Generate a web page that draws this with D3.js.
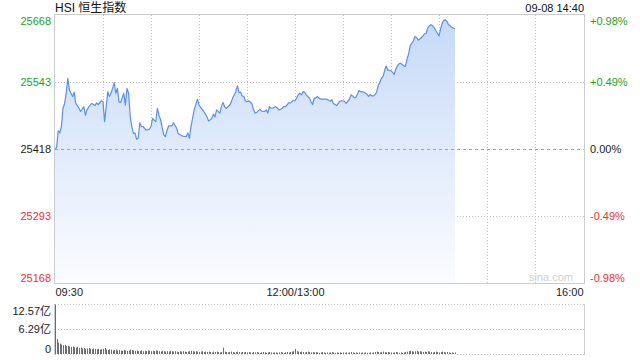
<!DOCTYPE html>
<html><head><meta charset="utf-8">
<script src="https://cdn.jsdelivr.net/npm/d3@7"></script>
<style>
html,body{margin:0;padding:0;background:#fff;}
svg{display:block;font-family:"Liberation Sans",Arial,"Noto Sans CJK SC",sans-serif;}
</style></head>
<body>
<svg id="c" width="640" height="360"></svg>
<script>
// ---- data ----
const title = "HSI 恒生指数";
const stamp = "09-08 14:40";
const prevClose = 25418;
const priceTicks = [25168, 25293, 25418, 25543, 25668];
const pctTicks = ["-0.98%", "-0.49%", "0.00%", "+0.49%", "+0.98%"];
const timeTickMinutes = [0, 150, 330];
const timeTickLabels = ["09:30", "12:00/13:00", "16:00"];
const volTicks = [0, 6.29, 12.57];
const volTickLabels = ["0", "6.29亿", "12.57亿"];

// trading minutes since 09:30 (lunch break removed)
const priceMinutes = [0,1,2,3,4,5,6,7,8,9,10,11,12,13,15,16,18,19,20,21,23,25,26,27,29,30,31,33,34,35,36,37,38,39,40,41,43,44,45,46,47,48,49,50,51,52,53,54,55,57,59,60,61,62,63,64,65,66,68,69,70,71,73,74,76,77,79,80,82,83,84,85,87,89,90,92,93,95,96,98,99,100,101,103,104,105,106,107,109,110,111,113,114,115,116,117,118,119,120,121,123,124,125,126,127,128,129,130,131,132,133,134,135,136,138,139,140,141,142,143,144,145,146,147,148,149,150,151,152,153,154,155,156,157,158,159,160,161,162,163,164,165,166,167,168,169,170,172,173,174,176,177,178,179,181,182,184,185,186,187,188,189,190,191,193,194,195,196,197,198,199,200,201,202,203,204,205,206,207,208,209,210,211,212,213,214,215,216,218,219,220,221,222,223,224,225,226,227,228,229,230,231,232,233,234,235,236,237,238,239,240,241,242,243,244,245,246,247,248,250];
const prices = [25419,25420,25452,25448,25460,25494,25503,25522,25550,25528,25522,25516,25524,25503,25494,25488,25497,25481,25491,25496,25503,25499,25504,25501,25508,25506,25469,25525,25516,25522,25531,25542,25522,25531,25506,25505,25522,25500,25531,25522,25479,25460,25447,25448,25436,25438,25467,25460,25460,25453,25455,25460,25475,25472,25469,25494,25481,25472,25444,25441,25453,25461,25461,25467,25457,25447,25443,25442,25441,25448,25438,25460,25491,25511,25500,25492,25488,25478,25470,25475,25483,25478,25491,25485,25497,25505,25497,25494,25499,25504,25513,25525,25536,25523,25524,25517,25516,25508,25506,25508,25503,25492,25485,25486,25489,25492,25489,25488,25488,25491,25485,25497,25494,25494,25497,25494,25491,25492,25494,25497,25497,25500,25504,25504,25506,25509,25508,25513,25519,25522,25519,25525,25524,25519,25516,25513,25506,25501,25513,25513,25516,25513,25511,25511,25511,25511,25511,25507,25510,25503,25499,25503,25507,25508,25507,25503,25511,25519,25517,25514,25514,25520,25527,25525,25524,25522,25520,25516,25520,25517,25517,25519,25524,25536,25542,25550,25553,25564,25573,25565,25565,25564,25561,25557,25567,25573,25577,25578,25573,25572,25586,25595,25611,25615,25620,25628,25626,25621,25623,25626,25629,25633,25634,25644,25648,25650,25648,25644,25639,25634,25629,25642,25653,25658,25659,25656,25650,25648,25645,25642];

// turnover per minute (亿), minutes 0..250
const volumes = [
12.4,3.8,2.9,2.6,2.4,2.2,2.3,2.0,2.1,1.9,
1.8,1.9,1.7,1.6,1.8,1.5,1.6,1.4,1.5,1.3,
1.4,1.5,1.3,1.2,1.4,1.3,1.2,1.3,1.1,1.2,
1.3,1.5,1.1,1.0,1.2,1.1,0.9,1.0,1.1,0.9,
1.0,0.9,0.8,1.0,0.9,0.8,0.9,1.1,1.0,0.9,
0.8,0.9,0.7,0.8,0.9,0.7,0.8,0.7,0.9,0.8,
0.7,0.8,0.7,0.9,0.8,0.7,0.6,0.8,0.7,0.6,
0.7,0.6,0.8,0.7,0.6,0.7,0.6,0.5,0.7,0.6,
0.7,0.6,0.5,0.6,0.7,0.8,0.7,0.6,0.7,0.6,
0.5,0.6,0.7,0.5,0.6,0.5,0.6,0.5,0.4,0.6,
0.5,0.6,0.5,0.4,0.5,1.6,0.6,0.5,0.4,0.5,
0.6,0.5,0.4,0.5,0.6,0.5,0.4,0.5,0.4,0.5,
0.4,0.5,0.4,0.3,0.5,0.4,0.5,0.4,0.3,0.4,
0.5,0.4,0.3,0.4,0.5,0.4,0.3,0.4,0.4,0.3,
0.4,0.5,0.4,0.3,0.4,0.5,0.4,0.5,0.6,0.7,
1.3,0.7,0.6,0.5,0.6,0.5,0.4,0.5,0.6,0.5,
0.4,0.5,0.4,0.5,0.4,0.3,0.4,0.5,0.4,0.3,
0.4,0.3,0.4,0.5,0.4,0.3,0.4,0.3,0.4,0.3,
0.4,0.3,0.4,0.3,0.4,0.5,0.4,0.3,0.4,0.3,
0.4,0.3,0.4,0.3,0.4,0.3,0.3,0.4,0.3,0.4,
0.5,0.6,0.5,0.4,0.5,0.6,0.5,0.4,0.5,0.4,
0.4,0.3,0.4,0.5,0.4,0.3,0.4,0.3,0.4,0.5,
0.6,0.7,0.8,0.7,0.6,0.7,0.8,0.6,0.7,0.6,
0.5,0.6,0.5,0.7,0.6,0.5,0.4,0.5,0.6,0.5,
0.4,0.5,0.6,0.5,0.4,0.5,0.4,0.3,0.4,0.3,
0.4];

// ---- layout ----
const L = 55, R = 584, T = 15, B = 283;
const VT = 304, VB = 354;
const svg = d3.select("#c");
const green = "#1aa31a", red = "#f03030", black = "#222";

const x = d3.scaleLinear().domain([0, 330]).range([L, R - 1]);
const y = d3.scaleLinear().domain([25168, 25668]).range([B, T]);
const yv = d3.scaleLinear().domain([0, 12.57]).range([VB, VT]);

const priceColor = v => v > prevClose ? green : (v < prevClose ? red : black);

// gradient
const defs = svg.append("defs");
const g = defs.append("linearGradient").attr("id", "fillg")
  .attr("gradientUnits", "userSpaceOnUse").attr("x1", 0).attr("x2", 0).attr("y1", T).attr("y2", B);
g.append("stop").attr("offset", 0).attr("stop-color", "#c6d9f8");
g.append("stop").attr("offset", 1).attr("stop-color", "#fbfcff");

// vertical grid
const vgrid = d3.range(30, 330, 30);
svg.append("g").selectAll("line").data(vgrid).join("line")
  .attr("x1", d => Math.round(x(d)) + 0.5).attr("x2", d => Math.round(x(d)) + 0.5)
  .attr("y1", T).attr("y2", B + 1)
  .attr("stroke", "#bdbdbd").attr("stroke-dasharray", "1,2");

// horizontal grid
svg.append("g").selectAll("line").data([25293, 25543]).join("line")
  .attr("x1", L).attr("x2", R)
  .attr("y1", d => Math.round(y(d)) + 0.5).attr("y2", d => Math.round(y(d)) + 0.5)
  .attr("stroke", "#bdbdbd").attr("stroke-dasharray", "1,2");

// area + line
const pts = priceMinutes.map((m, i) => [m, prices[i]]);
svg.append("path").datum(pts)
  .attr("d", d3.area().x(d => x(d[0])).y0(B).y1(d => y(d[1])))
  .attr("fill", "url(#fillg)");

svg.append("line")
  .attr("x1", L).attr("x2", R)
  .attr("y1", Math.round(y(prevClose)) + 0.5).attr("y2", Math.round(y(prevClose)) + 0.5)
  .attr("stroke", "#a0a0a0").attr("stroke-dasharray", "3,3");

svg.append("path").datum(pts)
  .attr("d", d3.line().x(d => x(d[0])).y(d => y(d[1])))
  .attr("fill", "none").attr("stroke", "#5a8ff0").attr("stroke-width", 1.2)
  .attr("stroke-linejoin", "round");

// frame
svg.append("rect").attr("x", L - 0.5).attr("y", T - 0.5).attr("width", R - L + 1).attr("height", B - T + 1)
  .attr("fill", "none").attr("stroke", "#cccccc");

// watermark
svg.append("text").attr("x", R - 11).attr("y", B - 2).attr("text-anchor", "end")
  .attr("font-size", 11).attr("fill", "#cfcfcf").text("sina.com");

// left price axis
const axL = d3.axisLeft(y).tickValues(priceTicks).tickSize(0).tickPadding(4).tickFormat(d3.format("d"));
const gl = svg.append("g").attr("transform", `translate(${L},0)`).call(axL);
gl.select(".domain").remove();
gl.selectAll("text").attr("font-size", 11).attr("font-family", "Liberation Sans, Arial, sans-serif")
  .attr("fill", d => priceColor(d))
  .attr("dy", d => d === 25668 ? "0.9em" : (d === 25168 ? "-0.1em" : "0.32em"));

// right pct axis
const axR = d3.axisRight(y).tickValues(priceTicks).tickSize(0).tickPadding(6)
  .tickFormat((d, i) => pctTicks[i]);
const gr = svg.append("g").attr("transform", `translate(${R},0)`).call(axR);
gr.select(".domain").remove();
gr.selectAll("text").attr("font-size", 11).attr("font-family", "Liberation Sans, Arial, sans-serif")
  .attr("fill", d => priceColor(d))
  .attr("dy", d => d === 25668 ? "0.9em" : (d === 25168 ? "-0.1em" : "0.32em"));

// time axis
const axB = d3.axisBottom(x).tickValues(timeTickMinutes).tickSize(0).tickPadding(5)
  .tickFormat((d, i) => timeTickLabels[i]);
const gb = svg.append("g").attr("transform", `translate(0,${B})`).call(axB);
gb.select(".domain").remove();
gb.selectAll("text").attr("font-size", 11).attr("font-family", "Liberation Sans, Arial, sans-serif")
  .attr("fill", black)
  .attr("text-anchor", (d, i) => i === 0 ? "start" : (i === timeTickMinutes.length - 1 ? "end" : "middle"));

// header
svg.append("text").attr("x", L).attr("y", 12).attr("font-size", 12).attr("fill", "#111")
  .attr("font-family", "Liberation Sans, Arial, 'Noto Sans CJK SC', sans-serif").text(title);
svg.append("text").attr("x", R).attr("y", 12).attr("font-size", 11).attr("fill", "#111")
  .attr("text-anchor", "end").text(stamp);

// volume pane
svg.append("g").selectAll("line").data([12.57, 6.29]).join("line")
  .attr("x1", L).attr("x2", R)
  .attr("y1", d => Math.round(yv(d)) + 0.5).attr("y2", d => Math.round(yv(d)) + 0.5)
  .attr("stroke", "#bdbdbd").attr("stroke-dasharray", "1,2");
svg.append("line").attr("x1", L).attr("x2", R).attr("y1", VB + 0.5).attr("y2", VB + 0.5)
  .attr("stroke", "#cccccc").attr("stroke-dasharray", "1,2");
svg.append("line").attr("x1", L - 0.5).attr("x2", L - 0.5).attr("y1", VT).attr("y2", VB + 1).attr("stroke", "#cccccc");
svg.append("line").attr("x1", R + 0.5).attr("x2", R + 0.5).attr("y1", VT).attr("y2", VB + 1).attr("stroke", "#cccccc");

svg.append("g").selectAll("rect").data(volumes).join("rect")
  .attr("x", (d, i) => Math.round(x(i)))
  .attr("width", 1)
  .attr("y", d => yv(d))
  .attr("height", d => VB - yv(d))
  .attr("fill", "#6e6e6e");

const axV = d3.axisLeft(yv).tickValues(volTicks).tickSize(0).tickPadding(4)
  .tickFormat((d, i) => volTickLabels[i]);
const gv = svg.append("g").attr("transform", `translate(${L},0)`).call(axV);
gv.select(".domain").remove();
gv.selectAll("text").attr("font-size", 11).attr("font-family", "Liberation Sans, Arial, 'Noto Sans CJK SC', sans-serif")
  .attr("fill", black)
  .attr("dy", (d) => d === 12.57 ? "0.95em" : (d === 0 ? "-0.15em" : "0.32em"));
</script>
</body></html>
